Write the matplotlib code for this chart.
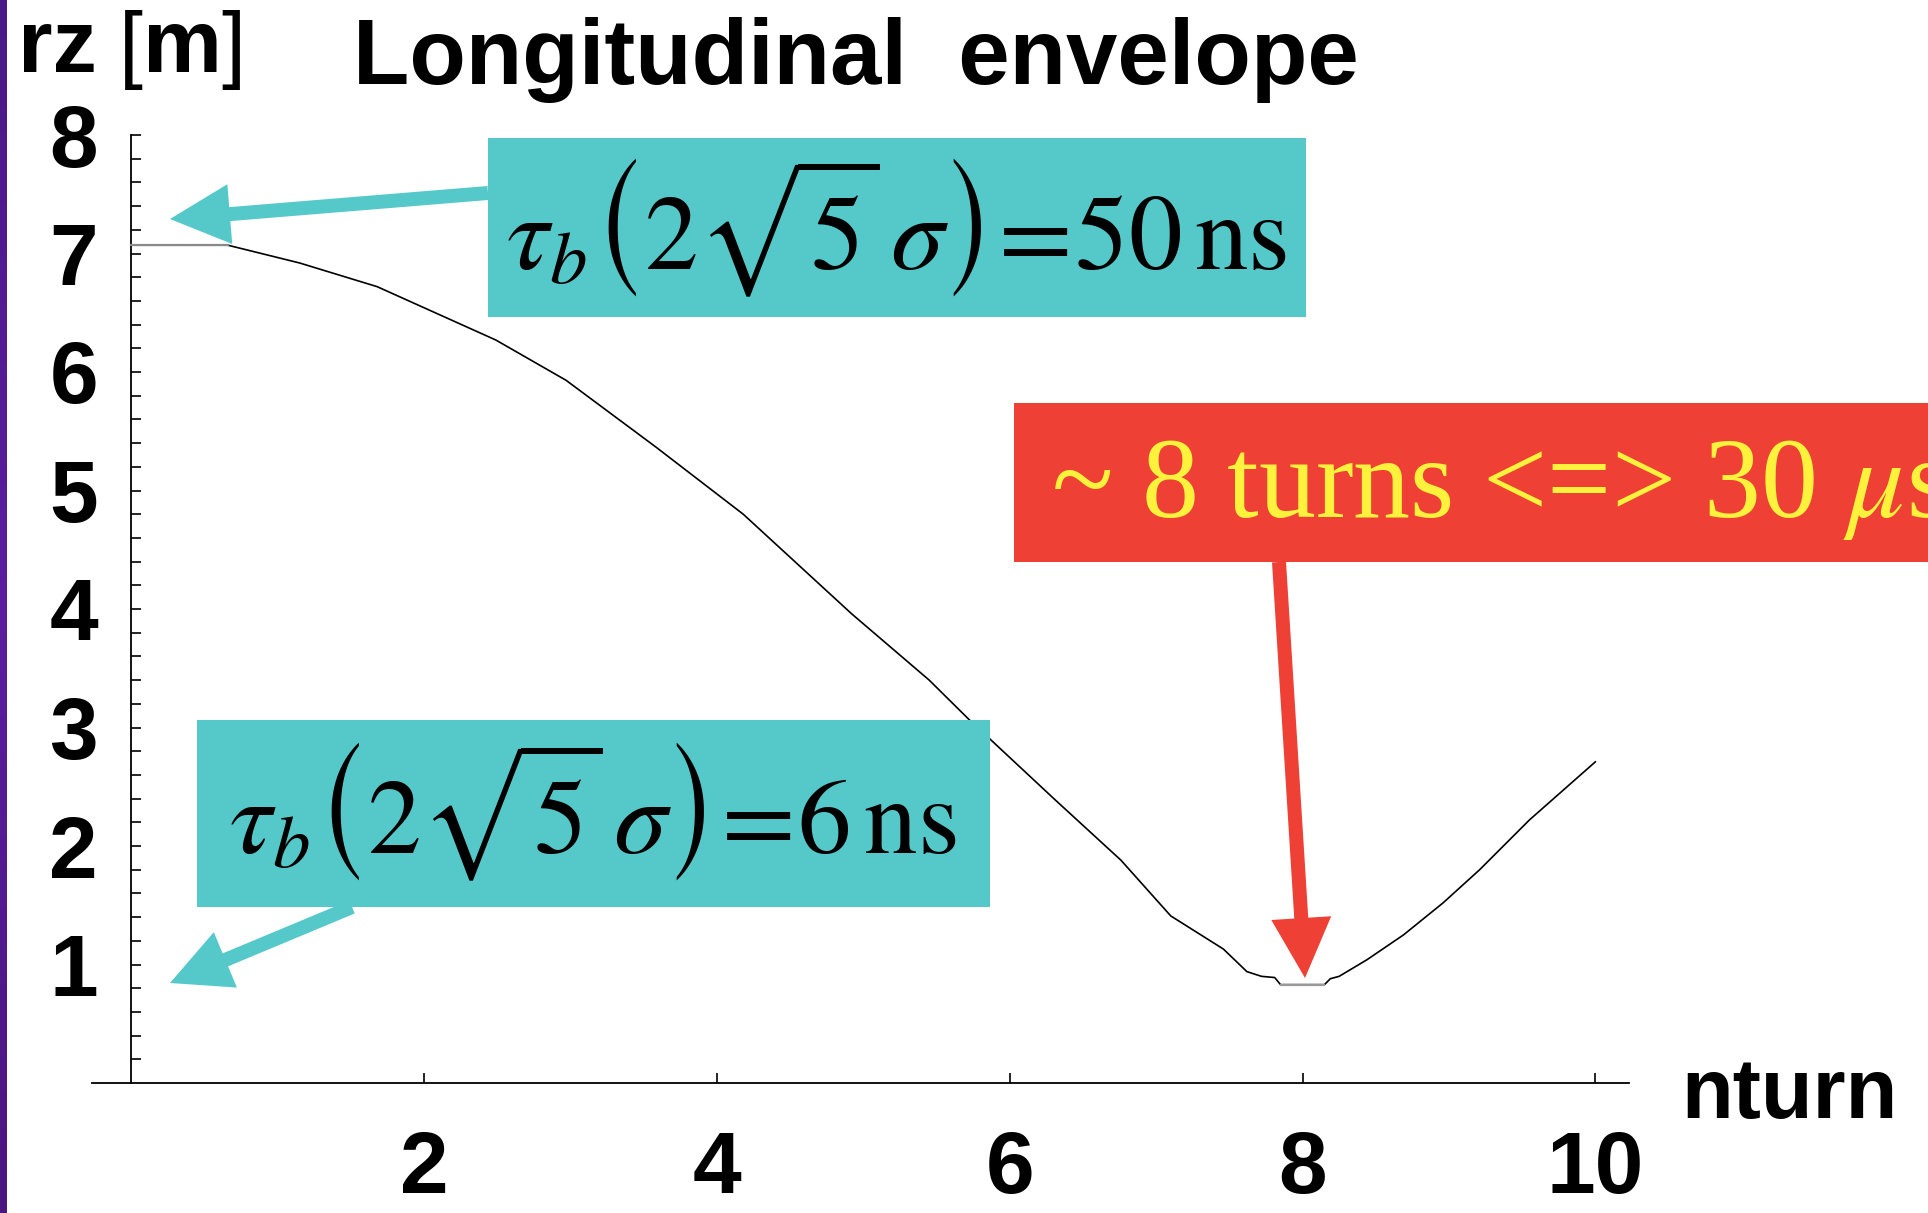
import numpy as np
import matplotlib
matplotlib.use('Agg')
import matplotlib.pyplot as plt
from matplotlib.patches import Rectangle, FancyArrow
from matplotlib.transforms import IdentityTransform

plt.rcParams['mathtext.fontset'] = 'stix'

W, H = 1928, 1213

# envelope (nturn, rz [m])
nturn = [0.0, 0.66, 1.15, 1.68, 2.49, 2.97, 3.58, 4.18, 4.92, 5.45, 5.72, 6.31,
         6.76, 7.10, 7.46, 7.62, 7.72, 7.81, 7.85, 8.15, 8.19, 8.25, 8.44, 8.69,
         8.96, 9.21, 9.55, 10.0]
rz = [7.07, 7.07, 6.92, 6.72, 6.27, 5.93, 5.37, 4.80, 3.96, 3.40, 3.07, 2.39,
      1.88, 1.41, 1.13, 0.94, 0.90, 0.89, 0.83, 0.83, 0.88, 0.90, 1.04, 1.25,
      1.52, 1.80, 2.22, 2.71]

xticks = [2, 4, 6, 8, 10]
yticks = [1, 2, 3, 4, 5, 6, 7, 8]

title = 'Longitudinal  envelope'
box1_text = r'$\tau_b\left(2\sqrt{5}\,\sigma\right)\!=\!50\,\mathrm{ns}$'
box2_text = r'$\tau_b\left(2\sqrt{5}\,\sigma\right)\!=\!6\,\mathrm{ns}$'
red_text = r'~ 8 turns <=> 30 $\mu$s'

cyan = '#55c8ca'
red = '#ee4034'
yellow = '#fff23c'


def fx(px):
    return px / W


def fy(py):
    return 1 - py / H


fig = plt.figure(figsize=(W / 100, H / 100), dpi=100)

# purple strip at the left edge
strip = fig.add_axes([0, 0, 7 / W, 1])
grad = np.linspace(0, 1, 100).reshape(-1, 1)
strip.imshow(grad, aspect='auto', cmap=matplotlib.colors.LinearSegmentedColormap.from_list(
    'p', ['#4a1886', '#5a1e9e', '#4a1680']))
strip.axis('off')

ax = fig.add_axes([fx(92), 1 - 1083 / H, (1629 - 92) / W, (1083 - 135) / H])
ax.plot(nturn, rz, color='black', lw=1.2, zorder=3)
ax.plot(nturn[:2], rz[:2], color='#8a8a8a', lw=1.6, zorder=4)
ax.plot(nturn[18:20], rz[18:20], color='#9a9a9a', lw=1.6, zorder=4)

ax.set_xlim(-0.268, 10.23)
ax.set_ylim(0, 8)
ax.spines['top'].set_visible(False)
ax.spines['right'].set_visible(False)
ax.spines['left'].set_position(('data', 0))
for s in ['left', 'bottom']:
    ax.spines[s].set_linewidth(1.3)

ax.set_xticks(xticks)
ax.set_xticklabels([str(t) for t in xticks])
ax.set_yticks(yticks)
ax.set_yticklabels([str(t) for t in yticks])
ax.set_yticks(np.arange(0.2, 8.0, 0.2), minor=True)
ax.tick_params(axis='x', direction='in', length=7, width=1.2, pad=34)
ax.tick_params(axis='y', which='both', direction='in', length=7, width=1.2, pad=24)
for lab in ax.get_xticklabels() + ax.get_yticklabels():
    lab.set_fontfamily('Liberation Sans')
    lab.set_fontweight('bold')
    lab.set_fontsize(63)

# titles and axis labels
fig.text(fx(353), fy(84), title, ha='left', va='baseline', fontsize=66.5,
         fontweight='bold', family='Liberation Sans')
fig.text(fx(18), fy(72), 'rz', ha='left', va='baseline', fontsize=64,
         fontweight='bold', family='Liberation Sans')
fig.text(fx(119), fy(72), '[', ha='left', va='baseline', fontsize=62,
         family='Liberation Sans')
fig.text(fx(143), fy(72), 'm', ha='left', va='baseline', fontsize=64,
         fontweight='bold', family='Liberation Sans')
fig.text(fx(221), fy(72), ']', ha='left', va='baseline', fontsize=62,
         family='Liberation Sans')
fig.text(fx(1681), fy(1118), 'nturn', ha='left', va='baseline', fontsize=61,
         fontweight='bold', family='Liberation Sans')


def box(x0, y0, x1, y1, color):
    fig.add_artist(Rectangle((fx(x0), fy(y1)), fx(x1 - x0), (y1 - y0) / H,
                             transform=fig.transFigure, facecolor=color,
                             edgecolor='none', zorder=5))


def arrow(x0, y0, x1, y1, color):
    fig.add_artist(FancyArrow(x0, H - y0, x1 - x0, -(y1 - y0), width=14,
                              head_width=60, head_length=60,
                              length_includes_head=True, transform=IdentityTransform(),
                              facecolor=color, edgecolor='none', zorder=5))


box(488, 138, 1306, 317, cyan)
fig.text(fx(897), fy(228), box1_text, ha='center', va='center', fontsize=77,
         color='black', zorder=6)
arrow(488, 193, 170, 219, cyan)

box(197, 720, 990, 907, cyan)
fig.text(fx(593), fy(812), box2_text, ha='center', va='center', fontsize=77,
         color='black', zorder=6)
arrow(352, 907, 170, 983, cyan)

box(1014, 403, 1940, 562, red)
fig.text(fx(1051), fy(490), red_text, ha='left', va='center', fontsize=82,
         color=yellow, family='Liberation Serif', zorder=6)
arrow(1279, 562, 1305, 978, red)

plt.savefig('out.png', dpi=100)
